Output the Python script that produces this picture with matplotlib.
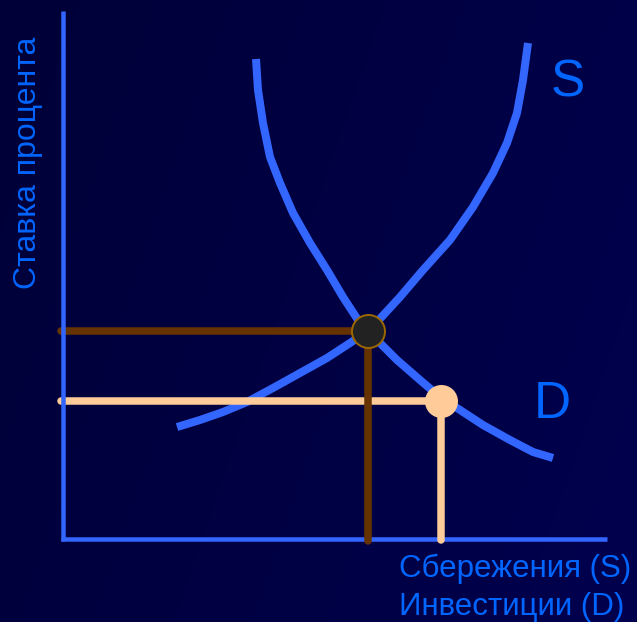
import numpy as np
import matplotlib
matplotlib.use("Agg")
import matplotlib.pyplot as plt
from matplotlib.colors import LinearSegmentedColormap

# ---- data (units: horizontal/vertical distance from the axes origin) ----
s_x = [114, 137, 160, 184, 210, 237, 264, 287, 305, 314, 337, 360, 387, 410, 430, 444, 454, 460, 465]
s_y = [112, 119, 127, 137, 151, 166, 181, 196, 208, 217, 242, 269, 299, 332, 366, 396, 426, 459, 496]
d_x = [193, 195, 200, 207, 217, 230, 247, 264, 280, 295, 305, 334, 357, 377, 394, 420, 447, 470, 490]
d_y = [480, 449, 416, 382, 356, 326, 296, 269, 242, 219, 208, 179, 159, 142, 131, 114, 99, 87, 81]
eq_point = (305, 208)      # equilibrium S = D
inv_point = (378, 138)     # lower rate, investment demand
curve_labels = ["S", "D"]
y_label = "Ставка процента"
x_label_lines = ["Сбережения (S)", "Инвестиции (D)"]

W, H = 637, 622
fig = plt.figure(figsize=(W / 100, H / 100), dpi=100)
ax = fig.add_axes([0, 0, 1, 1])
ax.set_xlim(-63, W - 63)
ax.set_ylim(539 - H, 539)
ax.axis("off")

# background gradient (slightly darker on the left, lighter to the right)
g = np.linspace(0, 1, 256)
gx, gy = np.meshgrid(g, g)
grad = 0.75 * gx + 0.25 * gy
cmap = LinearSegmentedColormap.from_list("bg", ["#000038", "#00004E"])
ax.imshow(grad, cmap=cmap, extent=[-63, W - 63, 539 - H, 539], origin="upper",
          aspect="auto", zorder=0)

blue = "#3366FF"
txt = "#0066FF"
brown = "#663300"
peach = "#FFCC99"
px = 0.72  # points per pixel

# curves
ax.plot(s_x, s_y, color=blue, lw=8 * px, solid_capstyle="butt", solid_joinstyle="round", zorder=2)
ax.plot(d_x, d_y, color=blue, lw=8 * px, solid_capstyle="butt", solid_joinstyle="round", zorder=2)

# guide lines
ax.plot([-2, inv_point[0]], [inv_point[1], inv_point[1]], color=peach, lw=7.5 * px,
        solid_capstyle="round", zorder=3)
ax.plot([inv_point[0], inv_point[0]], [inv_point[1], -1], color=peach, lw=7.5 * px,
        solid_capstyle="round", zorder=6)
ax.plot([-2, eq_point[0]], [eq_point[1], eq_point[1]], color=brown, lw=7.5 * px,
        solid_capstyle="round", zorder=3)
ax.plot([eq_point[0], eq_point[0]], [eq_point[1], -2], color=brown, lw=7.5 * px,
        solid_capstyle="round", zorder=6)

# axes lines
ax.plot([0, 0], [-2, 528], color=blue, lw=4.5 * px, solid_capstyle="butt", zorder=5)
ax.plot([-2, 544], [0, 0], color=blue, lw=4.5 * px, solid_capstyle="butt", zorder=5)

# points
ax.scatter([eq_point[0]], [eq_point[1]], s=(33 * px) ** 2, color="#222222",
           edgecolors="#996600", linewidths=2 * px, zorder=8)
ax.scatter([inv_point[0]], [inv_point[1]], s=(33 * px) ** 2, color=peach,
           edgecolors=peach, linewidths=0, zorder=8)

font = "Liberation Sans"
ax.text(505, 456, curve_labels[0], color=txt, fontsize=37, family=font,
        ha="center", va="center", zorder=9)
ax.text(489, 134, curve_labels[1], color=txt, fontsize=37, family=font,
        ha="center", va="center", zorder=9)
ax.text(-35, 376, y_label, color=txt, fontsize=23, family=font, rotation=90,
        ha="center", va="center", zorder=9)
ax.text(336, -38, x_label_lines[0], color=txt, fontsize=22.5, family=font,
        ha="left", va="baseline", zorder=9)
ax.text(336, -76, x_label_lines[1], color=txt, fontsize=22.5, family=font,
        ha="left", va="baseline", zorder=9)

fig.savefig("out.png", dpi=100, facecolor="#000040")
